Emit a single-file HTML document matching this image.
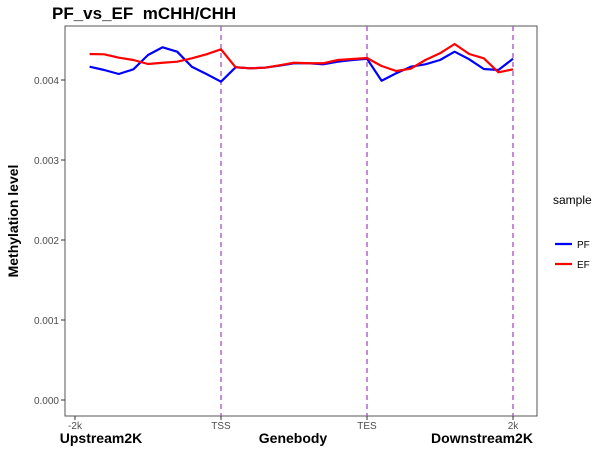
<!DOCTYPE html>
<html><head><meta charset="utf-8"><style>
body{margin:0;background:#fff;}
svg{display:block;font-family:"Liberation Sans",Arial,sans-serif;}
</style></head><body>
<svg id="chart" width="600" height="450">
<rect x="0" y="0" width="600" height="450" fill="#fff"/>
<text x="52" y="19" font-size="17" font-weight="bold" fill="#000">PF_vs_EF&#160; mCHH/CHH</text>
<rect x="65" y="26" width="472" height="390" fill="none" stroke="#555" stroke-width="1"/>
<g id="yaxis"></g>
<g id="xaxis"></g>
<g id="vlines"></g>
<g id="series"></g>
<text transform="translate(18,221) rotate(-90)" text-anchor="middle" font-size="14" font-weight="bold">Methylation level</text>
<text x="101" y="443" text-anchor="middle" font-size="14" font-weight="bold">Upstream2K</text>
<text x="293" y="443" text-anchor="middle" font-size="14" font-weight="bold">Genebody</text>
<text x="482" y="443" text-anchor="middle" font-size="14" font-weight="bold">Downstream2K</text>
<g>
<text x="553" y="204" font-size="12">sample</text>
<line x1="555" y1="244" x2="572" y2="244" stroke="#0000ff" stroke-width="2.2"/>
<text x="577" y="248" font-size="10" fill="#000">PF</text>
<line x1="555" y1="264" x2="572" y2="264" stroke="#ff0000" stroke-width="2.2"/>
<text x="577" y="268" font-size="10" fill="#000">EF</text>
</g>
</svg>
<script>
const yTicks=[0,0.001,0.002,0.003,0.004];
const yTickLabels=["0.000","0.001","0.002","0.003","0.004"];
const xTicks=[0,10,20,30];
const xTickLabels=["-2k","TSS","TES","2k"];
const boundaries=[10,20,30];
const pfValues=[4.166,4.125,4.075,4.134,4.3125,4.409,4.354,4.166,4.075,3.979,4.159,4.146,4.154,4.179,4.209,4.209,4.196,4.229,4.25,4.266,3.991,4.084,4.166,4.196,4.25,4.354,4.259,4.1375,4.125,4.266];
const efValues=[4.325,4.321,4.279,4.25,4.2,4.216,4.229,4.271,4.321,4.384,4.159,4.146,4.154,4.184,4.216,4.209,4.209,4.25,4.2625,4.275,4.175,4.1125,4.141,4.25,4.334,4.45,4.325,4.271,4.096,4.134];
const NS="http://www.w3.org/2000/svg";
function xs(i){return 75+i*(513-75)/30;}
function ys(v){return 400-v*80000;}
const ya=document.getElementById('yaxis');
yTicks.forEach((t,k)=>{
 const l=document.createElementNS(NS,'line');
 l.setAttribute('x1',61);l.setAttribute('x2',65);l.setAttribute('y1',ys(t));l.setAttribute('y2',ys(t));l.setAttribute('stroke','#333');
 
 
 ya.appendChild(l);
 const tx=document.createElementNS(NS,'text');
 tx.setAttribute('x',59);tx.setAttribute('y',ys(t)+4);tx.setAttribute('text-anchor','end');tx.setAttribute('font-size','10');tx.setAttribute('fill','#4d4d4d');
 tx.textContent=yTickLabels[k];
 
 
 ya.appendChild(tx);
});
const xa=document.getElementById('xaxis');
xTicks.forEach((t,k)=>{
 const l=document.createElementNS(NS,'line');
 l.setAttribute('x1',xs(t));l.setAttribute('x2',xs(t));l.setAttribute('y1',416);l.setAttribute('y2',420);l.setAttribute('stroke','#333');
 
 
 xa.appendChild(l);
 const tx=document.createElementNS(NS,'text');
 tx.setAttribute('x',xs(t));tx.setAttribute('y',429);tx.setAttribute('text-anchor','middle');tx.setAttribute('font-size','10');tx.setAttribute('fill','#4d4d4d');
 tx.textContent=xTickLabels[k];
 
 
 xa.appendChild(tx);
});
const vl=document.getElementById('vlines');
boundaries.forEach(b=>{
 const l=document.createElementNS(NS,'line');
 l.setAttribute('x1',xs(b));l.setAttribute('x2',xs(b));l.setAttribute('y1',26);l.setAttribute('y2',416);
 l.setAttribute('stroke','#a94fc0');l.setAttribute('stroke-width','1.3');l.setAttribute('stroke-dasharray','5,4');
 
 
 vl.appendChild(l);
});
const sg=document.getElementById('series');
function draw(vals,color,name){
 const p=document.createElementNS(NS,'polyline');
 p.setAttribute('points',vals.map((v,i)=>xs(i+1)+','+ys(v/1000)).join(' '));
 p.setAttribute('fill','none');p.setAttribute('stroke',color);p.setAttribute('stroke-width','2.2');p.setAttribute('stroke-linejoin','round');
 
 
 sg.appendChild(p);
}
draw(pfValues,'#0000ff','line-pf');
draw(efValues,'#ff0000','line-ef');
</script>
</body></html>
